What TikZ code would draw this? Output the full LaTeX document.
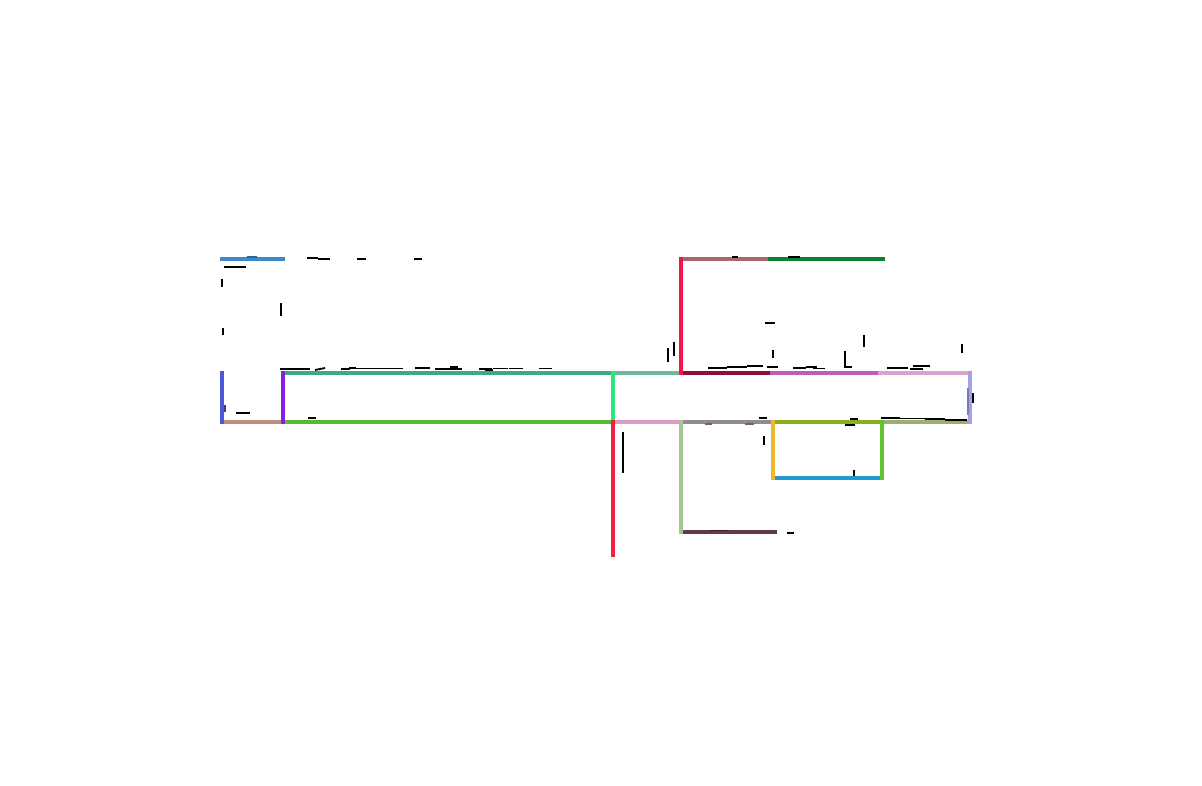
\documentclass[tikz,border=0pt]{standalone}
\usepackage{xcolor}
\begin{document}
\begin{tikzpicture}[x=1pt,y=-1pt,
  route/.style={line width=4pt,line cap=rect},
  tick/.style={line width=1.8pt,black},
  faint/.style={line width=1.2pt}]
\useasboundingbox[fill=white] (0,0) rectangle (1202,786);
% junction coordinates
\coordinate (a1) at (222,259); \coordinate (b1) at (283,259);
\coordinate (a2) at (222,373); \coordinate (b2) at (283,373);
\coordinate (a3) at (222,422); \coordinate (b3) at (283,422);
\coordinate (c2) at (613,373); \coordinate (c3) at (613,422); \coordinate (c6) at (613,555);
\coordinate (d1) at (681,259); \coordinate (d2) at (681,373); \coordinate (d3) at (681,422); \coordinate (d5) at (681,532);
\coordinate (e1) at (770,259); \coordinate (e2) at (772,373); \coordinate (e3) at (773,422); \coordinate (e4) at (773,478); \coordinate (e5) at (775,532);
\coordinate (f1) at (883,259); \coordinate (f2) at (880,373); \coordinate (f3) at (882,422); \coordinate (f4) at (882,478);
\coordinate (g2) at (970,373); \coordinate (g3) at (970,422);
% horizontal routes
\draw[route,color={rgb,255:red,62;green,135;blue,203}] (a1) -- (b1);
\draw[route,color={rgb,255:red,188;green,143;blue,131}] (a3) -- (b3);
\draw[route,color={rgb,255:red,62;green,170;blue,133}] (b2) -- (c2);
\draw[route,color={rgb,255:red,88;green,186;blue,46}] (b3) -- (c3);
\draw[route,color={rgb,255:red,112;green,184;blue,154}] (c2) -- (d2);
\draw[route,color={rgb,255:red,218;green,154;blue,196}] (c3) -- (d3);
\draw[route,color={rgb,255:red,169;green,104;blue,111}] (d1) -- (e1);
\draw[route,color={rgb,255:red,14;green,128;blue,51}] (e1) -- (f1);
\draw[route,color={rgb,255:red,139;green,15;blue,58}] (d2) -- (e2);
\draw[route,color={rgb,255:red,195;green,91;blue,184}] (e2) -- (f2);
\draw[route,color={rgb,255:red,219;green,162;blue,207}] (f2) -- (g2);
\draw[route,color={rgb,255:red,147;green,138;blue,148}] (d3) -- (e3);
\draw[route,color={rgb,255:red,137;green,174;blue,31}] (e3) -- (f3);
\draw[route,color={rgb,255:red,154;green,176;blue,112}] (f3) -- (g3);
\draw[route,color={rgb,255:red,33;green,153;blue,209}] (e4) -- (f4);
\draw[route,color={rgb,255:red,97;green,57;blue,79}] (d5) -- (e5);
% vertical routes
\draw[route,color={rgb,255:red,75;green,87;blue,216}] (a2) -- (a3);
\draw[route,color={rgb,255:red,138;green,29;blue,227}] (b2) -- (b3);
\draw[route,color={rgb,255:red,46;green,230;blue,124}] (c2) -- (c3);
\draw[route,color={rgb,255:red,240;green,32;blue,62}] (c3) -- (c6);
\draw[route,color={rgb,255:red,242;green,21;blue,74}] (d1) -- (d2);
\draw[route,color={rgb,255:red,163;green,199;blue,143}] (d3) -- (d5);
\draw[route,color={rgb,255:red,241;green,184;blue,47}] (e3) -- (e4);
\draw[route,color={rgb,255:red,99;green,194;blue,47}] (f3) -- (f4);
\draw[route,color={rgb,255:red,163;green,163;blue,224}] (g2) -- (g3);
% faint marks on routes
\draw[faint,color={rgb,255:red,40;green,100;blue,170}] (247,257) -- (257,257);
\draw[faint,color={rgb,255:red,50;green,60;blue,160}] (225,405) -- (225,412);
\draw[faint,color={rgb,255:red,110;green,100;blue,112}] (705,424) -- (712,424) (745,424) -- (754,424);
\draw[faint,color={rgb,255:red,60;green,30;blue,45}] (710,530.5) -- (729,530.5);
\draw[faint,color={rgb,255:red,120;green,120;blue,190}] (968,388) -- (968,415);
% small black marks
\foreach \xa/\ya/\xb/\yb in {
 307/258/318/258, 318/259/330/259, 357/259/366/259, 414/259/422/259,
 224/267/246/267, 222/279/222/287, 281/303/281/316, 223/328/223/335,
 280/369/310/369, 315/370/325/368, 341/369/350/369, 349/368/356/368, 350/368.5/403/368.5,
 415/368/430/368, 435/368.5/440/368.5, 236/413/250/413, 308/418/316/418,
 435/369/462/369, 450/367/458/367, 479/369/492/369, 485/370/493/370, 493/368.5/508/368.5,
 509/368.5/523/368.5, 539/368.5/552/368.5, 623/432/623/473,
 732/257/738/257, 788/257/800/257, 765/323/775/323, 773/350/773/358,
 864/335/864/347, 668/348/668/362, 674/342/674/356,
 708/368/727/368, 727/367/747/367, 747/366/762/366, 750/366/763/366, 767/367/778/367,
 793/368/806/368, 806/367/817/367, 813/368.5/825/368.5, 887/368/908/368, 910/369/923/369, 913/366/930/366,
 962/344/962/353, 973/393/973/403,
 759/418/767/418, 764/436/764/445, 850/419/858/419, 845/425/855/425,
 881/418/900/418, 900/418.5/930/418.5, 925/419/945/419, 945/420/967/420,
 787/533/794/533, 854/470/854/476}
 \draw[tick] (\xa,\ya) -- (\xb,\yb);
\draw[tick] (845,351) -- (845,367) -- (852,367);
\end{tikzpicture}
\end{document}
